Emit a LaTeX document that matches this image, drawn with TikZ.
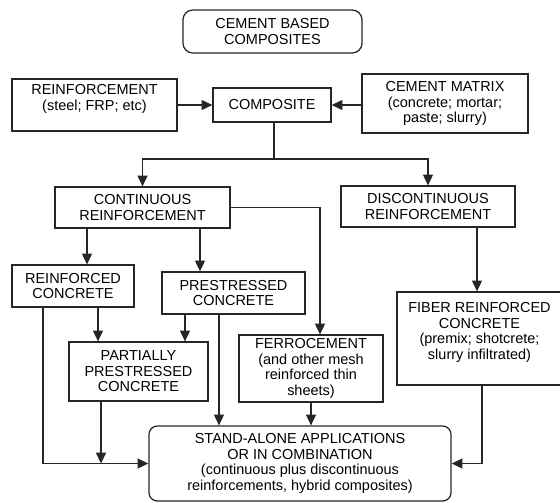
\documentclass[tikz,border=0pt]{standalone}
\usepackage{fontspec}
\setmainfont{Liberation Sans}
\usetikzlibrary{arrows.meta}

\tikzset{
  blk/.style={draw=black!85, line width=0.9pt, inner sep=0pt, align=center,
    font=\fontsize{10.3}{11}\selectfont},
  rblk/.style={blk, rounded corners=7pt},
  lnk/.style={draw=black!85, line width=0.9pt, -{Triangle[length=2.7mm,width=2.5mm]}},
}

\begin{document}
\begin{tikzpicture}[x=0.025cm, y=-0.025cm]
    \useasboundingbox (0,0) rectangle (560,502);

    % Top: title and inputs
    \node[rblk, minimum width=4.475cm, minimum height=1.075cm] (title) at (272.5,31.5) {CEMENT BASED\\COMPOSITES};
    \node[blk, minimum width=4.125cm, minimum height=1.3cm] (reinf) at (94.5,105) {REINFORCEMENT\\(steel; FRP; etc)\\\mbox{}};
    \node[blk, minimum width=2.95cm, minimum height=0.85cm] (comp) at (272,105) {COMPOSITE};
    \node[blk, minimum width=4.15cm, minimum height=1.475cm] (cmatrix) at (445,103.5) {CEMENT MATRIX\\(concrete; mortar;\\paste; slurry)};

    % Reinforcement types
    \node[blk, minimum width=4.375cm, minimum height=1.025cm] (cont) at (142.5,207.5) {CONTINUOUS\\REINFORCEMENT};
    \node[blk, minimum width=4.35cm, minimum height=1.025cm] (disc) at (428,206.5) {DISCONTINUOUS\\REINFORCEMENT};

    % Products
    \node[blk, minimum width=3.05cm, minimum height=1.05cm] (rc) at (73,286) {REINFORCED\\CONCRETE};
    \node[blk, minimum width=3.575cm, minimum height=1.05cm] (ps) at (233.5,293) {PRESTRESSED\\CONCRETE};
    \node[blk, minimum width=4.125cm, minimum height=2.325cm] (fiber) at (479.5,338.5) {FIBER REINFORCED\\CONCRETE\\(premix; shotcrete;\\slurry infiltrated)\\\mbox{}};
    \node[blk, minimum width=3.475cm, minimum height=1.475cm] (pp) at (138.5,371.5) {PARTIALLY\\PRESTRESSED\\CONCRETE};
    \node[blk, minimum width=3.6cm, minimum height=1.675cm] (ferro) at (311,368.5) {FERROCEMENT\\(and other mesh\\reinforced thin\\sheets)};

    % Bottom
    \node[rblk, rounded corners=6pt, minimum width=7.55cm, minimum height=1.875cm] (stand) at (300,463.5) {STAND-ALONE APPLICATIONS\\OR IN COMBINATION\\(continuous plus discontinuous\\reinforcements, hybrid composites)};

    % Connectors
    \draw[lnk] (reinf) -- (comp);
    \draw[lnk] (cmatrix.west |- comp.east) -- (comp.east);

    \coordinate (split) at (274,159);
    \draw[draw=black!85, line width=0.9pt] (comp.south -| split) -- (split);
    \draw[lnk] (split) -| (cont.north);
    \draw[lnk] (split) -| (disc.north);

    \draw[lnk] (cont.south -| 87,0) -- (rc.north -| 87,0);
    \draw[lnk] (cont.south -| 200,0) -- (ps.north -| 200,0);
    \draw[lnk] (cont.east) -| (ferro.north -| 320,0);
    \draw[lnk] (disc.south -| 477,0) -- (fiber.north -| 477,0);

    \draw[lnk] (rc.south -| 98,0) -- (pp.north -| 98,0);
    \draw[lnk] (rc.south -| 43,0) |- (stand.west);
    \draw[lnk] (ps.south -| 185,0) -- (pp.north -| 185,0);
    \draw[lnk] (ps.south -| 219,0) -- (stand.north -| 219,0);
    \draw[lnk] (pp.south -| 101,0) -- (101,0 |- stand.west);
    \draw[lnk] (ferro.south) -- (ferro.south |- stand.north);
    \draw[lnk] (fiber.south -| 482,0) |- (stand.east);
\end{tikzpicture}
\end{document}
